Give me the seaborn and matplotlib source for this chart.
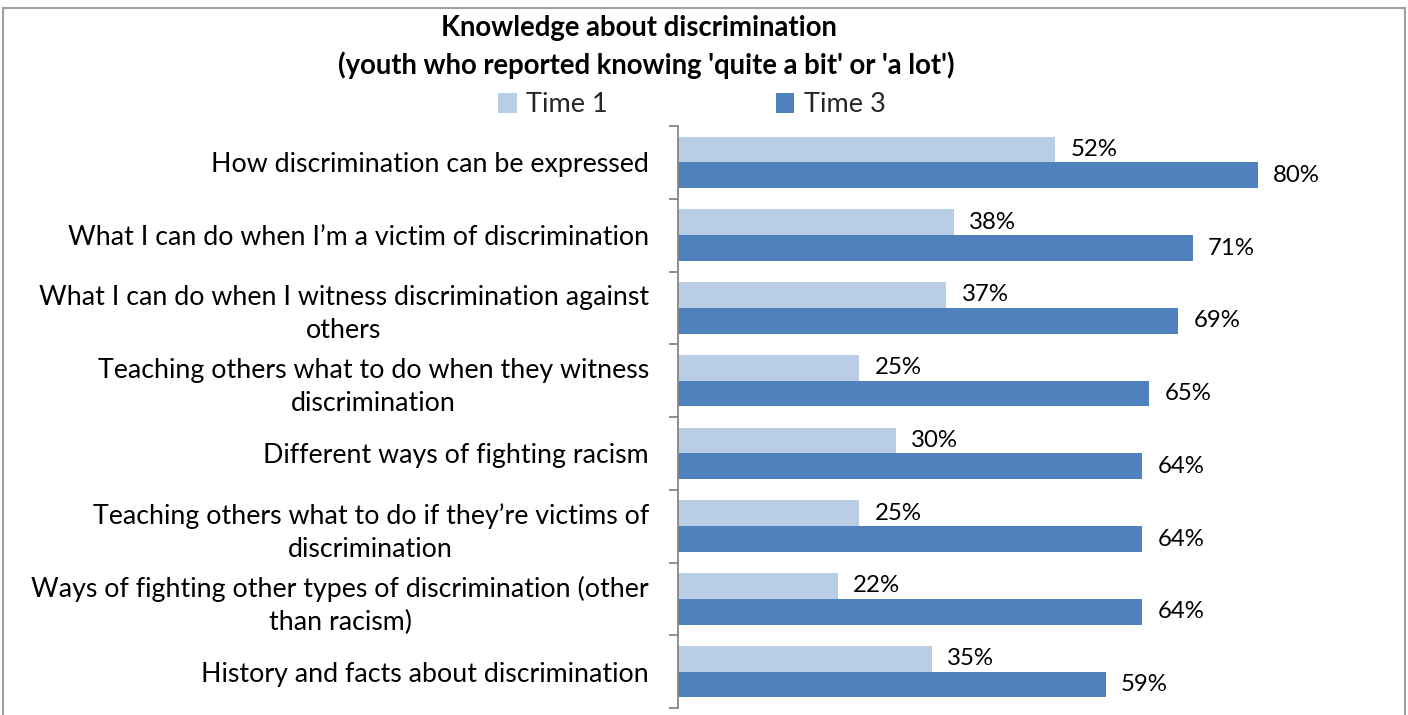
import matplotlib
matplotlib.use("Agg")
import matplotlib.pyplot as plt
from matplotlib.patches import Rectangle, Patch
from matplotlib.ticker import FixedLocator
import seaborn as sns
import pandas as pd

categories = [
    "How discrimination can be expressed",
    "What I can do when I\u2019m a victim of discrimination",
    "What I can do when I witness discrimination against\nothers",
    "Teaching others what to do when they witness\ndiscrimination",
    "Different ways of fighting racism",
    "Teaching others what to do if they\u2019re victims of\ndiscrimination",
    "Ways of fighting other types of discrimination (other\nthan racism)",
    "History and facts about discrimination",
]
series = ["Time 1", "Time 3"]
time1 = [52, 38, 37, 25, 30, 25, 22, 35]
time3 = [80, 71, 69, 65, 64, 64, 64, 59]
colors = ["#B9CDE5", "#4F81BD"]

df = pd.DataFrame({
    "category": categories * 2,
    "series": [series[0]] * len(categories) + [series[1]] * len(categories),
    "value": time1 + time3,
})

sns.set_theme(style="white")
plt.rcParams["font.family"] = ["Lato", "DejaVu Sans"]

W, H = 1408, 715
fig = plt.figure(figsize=(W / 100, H / 100), dpi=100)
ax = fig.add_axes([678 / W, 1 - 708 / H, (1403 - 678) / W, (708 - 126) / H])

sns.barplot(data=df, y="category", x="value", hue="series", order=categories,
            hue_order=series, palette=colors, orient="h", width=0.71,
            saturation=1, linewidth=0, ax=ax, legend=False)

ax.set_xlim(0, 100)
ax.set_ylim(len(categories) - 0.5, -0.5)
ax.set_xlabel("")
ax.set_ylabel("")
ax.set_xticks([])

# category boundaries carry the tick marks, labels sit between them
ax.yaxis.set_major_locator(FixedLocator([i - 0.5 for i in range(len(categories) + 1)]))
ax.yaxis.set_minor_locator(FixedLocator(list(range(len(categories)))))
ax.set_yticklabels([""] * (len(categories) + 1))
ax.set_yticklabels(categories, minor=True)
ax.tick_params(axis="y", which="major", length=6.5, width=1.3, color="#868686", left=True)
ax.tick_params(axis="y", which="minor", length=0, pad=21, labelsize=19.3, labelcolor="#000000")
for lbl in ax.get_yticklabels(minor=True):
    lbl.set_multialignment("center")
    lbl.set_linespacing(1.4)

for side in ["top", "right", "bottom"]:
    ax.spines[side].set_visible(False)
ax.spines["left"].set_color("#868686")
ax.spines["left"].set_linewidth(1.3)

for container in ax.containers:
    ax.bar_label(container, labels=[f"{v:.0f}%" for v in container.datavalues],
                 padding=11, fontsize=17.3, color="#000000")

fig.text(0.454, 1 - 28 / H, "Knowledge about discrimination", ha="center", va="center",
         fontsize=19.8, fontweight="bold", color="#000000")
fig.text(0.459, 1 - 65 / H, "(youth who reported knowing 'quite a bit' or 'a lot')",
         ha="center", va="center", fontsize=19.8, fontweight="bold", color="#000000")

handles = [Patch(facecolor=c, edgecolor="none", label=s) for c, s in zip(colors, series)]
fig.legend(handles=handles, loc="center", bbox_to_anchor=(0.4915, 1 - 105 / H), ncol=2,
           frameon=False, fontsize=19.5, handlelength=0.68, handleheight=0.8,
           handletextpad=0.35, columnspacing=6.2)

fig.patches.append(Rectangle((3 / W, -0.05), (1405 - 3) / W, 1.05 - 8 / H,
                             transform=fig.transFigure, fill=False,
                             edgecolor="#A0A0A0", linewidth=1.5))

fig.savefig("out.png", dpi=100)
